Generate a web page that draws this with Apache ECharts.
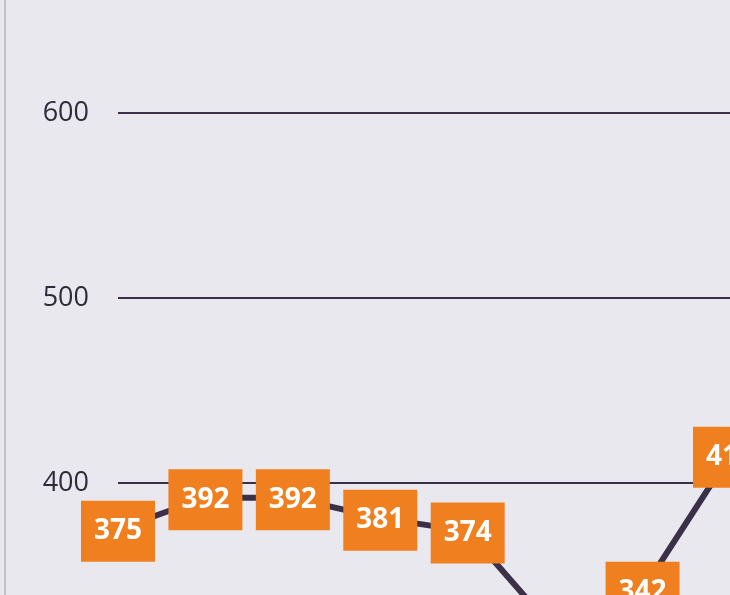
<!DOCTYPE html>
<html>
<head>
<meta charset="utf-8">
<script src="https://cdn.jsdelivr.net/npm/echarts@6/dist/echarts.min.js"></script>
<style>
html,body{margin:0;padding:0;background:#e9e8ee;width:730px;height:595px;overflow:hidden;position:relative;}
#edge{position:absolute;left:4px;top:0;width:2px;height:595px;background:#c2c1c6;}
#chart{position:absolute;left:0;top:-100px;width:730px;height:800px;}
</style>
</head>
<body>
<div id="edge"></div>
<div id="chart"></div>
<script>
var categories = ['P1','P2','P3','P4','P5','P6','P7','P8'];
var values = [375, 392, 392, 381, 374, 320, 342, 415];
var yTicks = {min: 300, max: 700, interval: 100};

var chart = echarts.init(document.getElementById('chart'), null, {renderer: 'canvas'});
chart.setOption({
  backgroundColor: 'transparent',
  animation: false,
  grid: {left: 118, right: 0, top: 28, bottom: 32, containLabel: false},
  xAxis: {
    type: 'category',
    data: categories,
    boundaryGap: false,
    axisLine: {show: false},
    axisTick: {show: false},
    axisLabel: {show: false},
    splitLine: {show: false}
  },
  yAxis: {
    type: 'value',
    min: yTicks.min,
    max: yTicks.max,
    interval: yTicks.interval,
    axisLine: {show: false},
    axisTick: {show: false},
    axisLabel: {
      margin: 29,
      color: '#2f2a3a',
      fontFamily: 'Open Sans',
      fontSize: 27
    },
    splitLine: {lineStyle: {color: '#3b3048', width: 2}}
  },
  series: [{
    type: 'line',
    data: values,
    symbol: 'circle',
    symbolSize: 1,
    showSymbol: true,
    itemStyle: {color: '#3b3048'},
    lineStyle: {color: '#3b3048', width: 6},
    label: {
      show: true,
      position: 'inside',
      offset: [0, 2],
      backgroundColor: '#f07f1f',
      color: '#ffffff',
      fontFamily: 'Open Sans',
      fontWeight: 'bold',
      fontSize: 28,
      width: 74,
      height: 61,
      lineHeight: 61,
      align: 'center',
      verticalAlign: 'middle',
      padding: 0
    },
    z: 3
  }]
});
</script>
</body>
</html>
